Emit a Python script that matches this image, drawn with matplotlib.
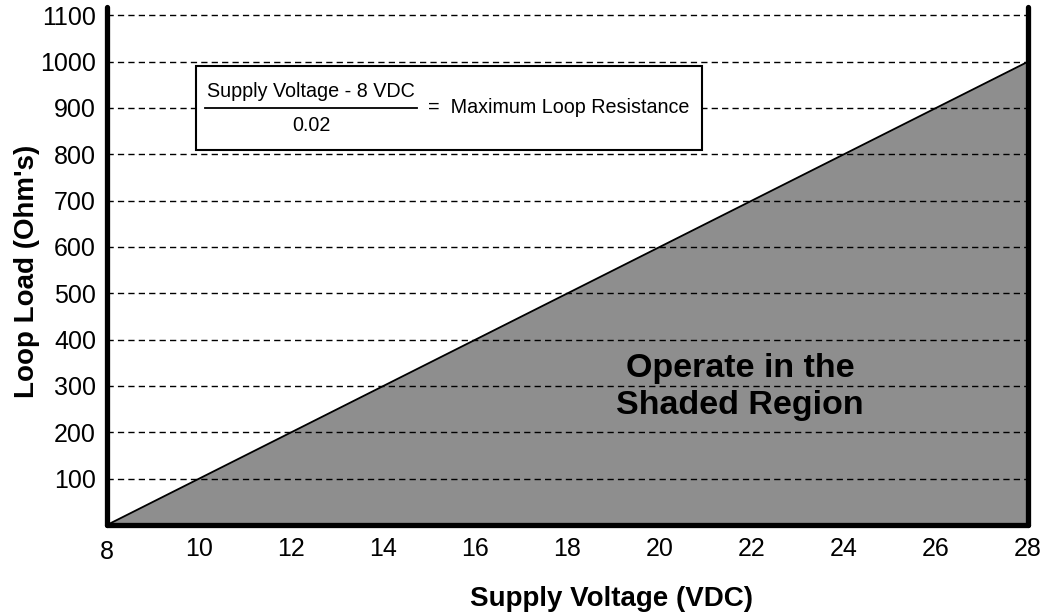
import matplotlib.pyplot as plt
import matplotlib.transforms as mtransforms
from matplotlib.patches import Rectangle

plt.rcParams['font.family'] = ['Liberation Sans', 'DejaVu Sans']

# data: max loop resistance = (V - 8) / 0.02
supply_v = [8, 28]
loop_load = [0, 1000]
x_ticks = [8, 10, 12, 14, 16, 18, 20, 22, 24, 26, 28]
y_ticks = [100, 200, 300, 400, 500, 600, 700, 800, 900, 1000, 1100]

fig = plt.figure(figsize=(10.47, 6.14), dpi=100)
ax = fig.add_axes([0.1022, 0.145, 0.8797, 0.8436])

# shaded operating region under the line
ax.fill_between(supply_v, loop_load, 0, color='#8e8e8e', zorder=1)
ax.plot(supply_v, loop_load, color='black', linewidth=1.3, zorder=3)

ax.set_xlim(8, 28)
ax.set_ylim(0, 1118)
ax.set_xticks(x_ticks)
ax.set_yticks(y_ticks)
ax.tick_params(axis='both', length=0, labelsize=18)
ax.tick_params(axis='x', pad=9)
ax.tick_params(axis='y', pad=8)

# the "8" label sits a bit lower than the others
lbl8 = ax.get_xticklabels()[0]
lbl8.set_transform(lbl8.get_transform() +
                   mtransforms.ScaledTranslation(0, -2 / 72, fig.dpi_scale_trans))

ax.grid(axis='y', color='black', linestyle=(0, (4.5, 3)), linewidth=1.0, zorder=2)
ax.set_axisbelow(False)

for side in ['left', 'bottom', 'right']:
    ax.spines[side].set_linewidth(3.8)
    ax.spines[side].set_capstyle('round')
ax.spines['top'].set_visible(False)

ax.set_xlabel('Supply Voltage (VDC)', fontsize=20, fontweight='bold')
ax.xaxis.set_label_coords(0.548, -0.117)
ax.set_ylabel("Loop Load (Ohm's)", fontsize=20, fontweight='bold')
ax.yaxis.set_label_coords(-0.073, 0.49)

# formula box
ax.add_patch(Rectangle((9.93, 810), 10.99, 181, facecolor='white', edgecolor='black',
                       linewidth=1.5, zorder=4))
ax.plot([10.13, 14.73], [900, 900], color='black', linewidth=1.3, zorder=5)
ax.text(12.43, 916, 'Supply Voltage - 8 VDC', fontsize=14.2, ha='center', va='bottom', zorder=5)
ax.text(12.43, 882, '0.02', fontsize=14.2, ha='center', va='top', zorder=5)
ax.text(14.98, 900, '=  Maximum Loop Resistance', fontsize=14.2, ha='left', va='center', zorder=5)

ax.text(21.75, 298, 'Operate in the\nShaded Region', fontsize=24.5, fontweight='bold',
        ha='center', va='center', linespacing=1.25, zorder=5)

fig.savefig('out.png', dpi=100)
